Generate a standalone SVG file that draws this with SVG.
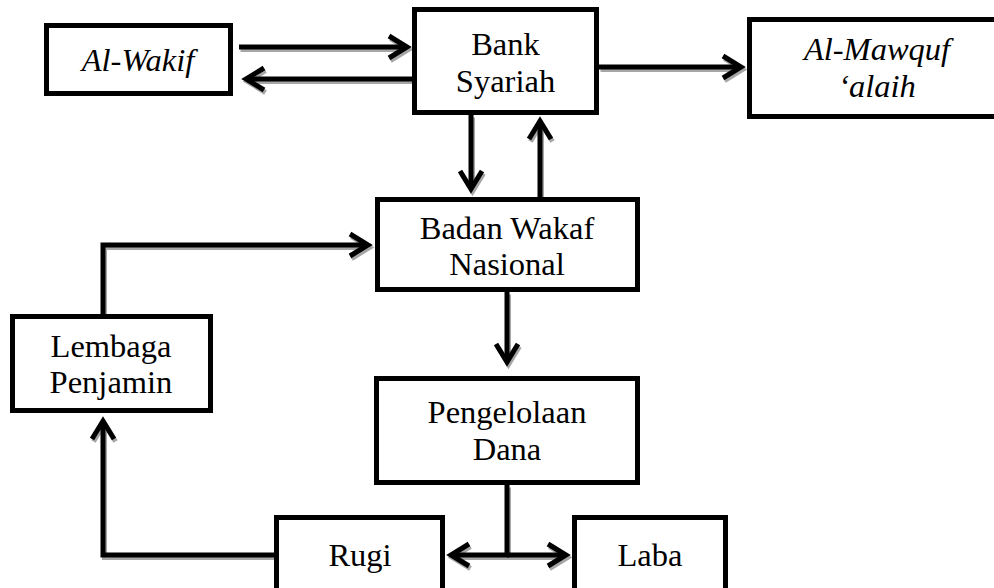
<svg xmlns="http://www.w3.org/2000/svg" xmlns:xlink="http://www.w3.org/1999/xlink" width="994" height="588" viewBox="0 0 994 588">
<style>
.box{fill:#fff;stroke:#000;stroke-width:5}
.t{font-family:"Liberation Serif","Times New Roman",serif;font-size:32.5px;fill:#000;text-anchor:middle}
.i{font-style:italic}
.c{fill:none;stroke:#000;stroke-width:5;marker-end:url(#ah)}
.s{fill:none;stroke:#a6a6a6;stroke-width:5;marker-end:url(#ahs)}
</style>
<defs>
<marker id="ah" markerUnits="userSpaceOnUse" viewBox="-24 -16 32 32" refX="0" refY="0" markerWidth="32" markerHeight="32" orient="auto" overflow="visible">
<path d="M-18,-11 L0,0 L-18,11" fill="none" stroke="#000" stroke-width="5"/>
</marker>
<marker id="ahs" markerUnits="userSpaceOnUse" viewBox="-24 -16 32 32" refX="0" refY="0" markerWidth="32" markerHeight="32" orient="auto" overflow="visible">
<path d="M-18,-11 L0,0 L-18,11" fill="none" stroke="#a6a6a6" stroke-width="5"/>
</marker>
</defs>
<rect width="994" height="588" fill="#fff"/>
<g id="connectors">
<g transform="translate(1.5,2.5)">
<path class="s" d="M239,47 H407"/>
<path class="s" d="M412,79 H246"/>
<path class="s" d="M599,67 H741"/>
<path class="s" d="M471,115 V189"/>
<path class="s" d="M540,197 V121"/>
<path class="s" d="M103,314 V245 H368"/>
<path class="s" d="M507,292 V362"/>
<path class="s" d="M507,485 V555 H451"/>
<path class="s" d="M507,555 H566"/>
<path class="s" d="M274,555 H103 V421"/>
</g>
<path class="c" d="M239,47 H407"/>
<path class="c" d="M412,79 H246"/>
<path class="c" d="M599,67 H741"/>
<path class="c" d="M471,115 V189"/>
<path class="c" d="M540,197 V121"/>
<path class="c" d="M103,314 V245 H368"/>
<path class="c" d="M507,292 V362"/>
<path class="c" d="M507,485 V555 H451"/>
<path class="c" d="M507,555 H566"/>
<path class="c" d="M274,555 H103 V421"/>
</g>
<g id="al-wakif">
<rect class="box" x="46.5" y="25.5" width="184" height="68"/>
<text class="t i" x="138" y="71">Al-Wakif</text>
</g>
<g id="bank-syariah">
<rect class="box" x="414.5" y="9.5" width="182" height="103"/>
<text class="t" x="505.5" y="55">Bank</text>
<text class="t" x="505.5" y="92">Syariah</text>
</g>
<g id="al-mawquf">
<rect class="box" x="749.5" y="19.5" width="260" height="97"/>
<text class="t i" x="877" y="60">Al-Mawquf</text>
<text class="t i" x="877" y="97">‘alaih</text>
</g>
<g id="badan-wakaf">
<rect class="box" x="377.5" y="199.5" width="260" height="90"/>
<text class="t" x="507" y="239">Badan Wakaf</text>
<text class="t" x="507" y="275">Nasional</text>
</g>
<g id="lembaga-penjamin">
<rect class="box" x="12.5" y="316.5" width="198" height="94"/>
<text class="t" x="111" y="357">Lembaga</text>
<text class="t" x="111" y="393">Penjamin</text>
</g>
<g id="pengelolaan-dana">
<rect class="box" x="376.5" y="378.5" width="261" height="104"/>
<text class="t" x="507" y="423">Pengelolaan</text>
<text class="t" x="507" y="460">Dana</text>
</g>
<g id="rugi">
<rect class="box" x="276.5" y="517.5" width="166" height="80"/>
<text class="t" x="360" y="566">Rugi</text>
</g>
<g id="laba">
<rect class="box" x="574.5" y="517.5" width="151" height="80"/>
<text class="t" x="650" y="566">Laba</text>
</g>
</svg>
